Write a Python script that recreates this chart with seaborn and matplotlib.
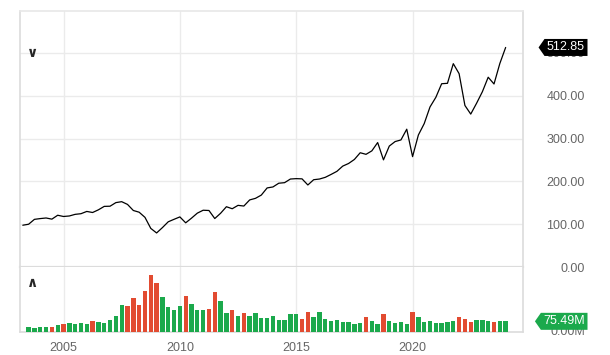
import numpy as np
import pandas as pd
import matplotlib
matplotlib.use("Agg")
import matplotlib.pyplot as plt
from matplotlib.path import Path
import seaborn as sns

# Quarterly closing price, 2003 Q2 .. 2024 Q1
price = [97.6, 99.9, 111.3,
         113.1, 114.5, 111.8, 120.9,
         118.0, 119.2, 123.0, 124.5,
         129.8, 127.3, 133.6, 141.6,
         142.0, 150.4, 152.6, 146.2,
         132.0, 128.0, 116.0, 90.2,
         79.5, 92.0, 105.6, 111.4,
         117.0, 103.2, 114.1, 125.8,
         132.6, 132.0, 113.2, 125.5,
         140.8, 136.1, 144.0, 142.4,
         156.7, 160.4, 168.0, 184.7,
         187.0, 195.7, 197.0, 205.5,
         206.4, 205.9, 191.6, 203.9,
         205.5, 209.5, 216.3, 223.5,
         235.7, 241.8, 251.2, 266.9,
         263.2, 271.3, 290.7, 250.3,
         282.5, 293.0, 296.8, 321.9,
         257.8, 308.4, 334.9, 373.9,
         396.3, 428.1, 429.1, 475.0,
         451.6, 377.3, 357.2, 382.4,
         409.4, 443.3, 427.5, 475.3,
         512.85]

# Average daily volume per quarter (millions), 2003 Q3 .. 2024 Q1
volume = [38, 31,
          38, 38, 38, 47,
          54, 61, 56, 61,
          56, 78, 71, 63,
          85, 115, 193, 184,
          240, 193, 287, 405,
          346, 247, 176, 155,
          184, 254, 195, 155,
          155, 162, 280, 216,
          132, 155, 113, 132,
          113, 132, 99, 99,
          115, 85, 85, 125,
          125, 92, 141, 106,
          141, 92, 78, 85,
          71, 71, 56, 61,
          108, 78, 54, 125,
          78, 61, 71, 54,
          141, 106, 71, 78,
          61, 66, 71, 75,
          108, 94, 71, 85,
          85, 80, 71, 80,
          75.49]

year_ticks = [2005, 2010, 2015, 2020]
price_ticks = [0, 100, 200, 300, 400, 500]
first_quarter = 2003.25

qx = first_quarter + 0.25 * np.arange(len(price))
df_price = pd.DataFrame({"year": qx, "close": price})
df_vol = pd.DataFrame({
    "year": qx[1:],
    "volume": volume,
    "dir": np.where(np.diff(price) > 0, "up", "down"),
})

sns.set_style("white")
plt.rcParams["font.family"] = ["Liberation Sans", "DejaVu Sans"]

GREEN = "#1ba94c"
RED = "#e24b31"
GRID = "#ebebeb"
BORDER = "#dcdcdc"
LABEL = "#666666"

W, H = 610, 355
fig = plt.figure(figsize=(W / 100, H / 100), dpi=100)
ax_p = fig.add_axes([20 / W, 1 - 267 / H, 503 / W, 256 / H])
ax_v = fig.add_axes([20 / W, 1 - 332 / H, 503 / W, 65 / H], sharex=ax_p)

# price line
sns.lineplot(data=df_price, x="year", y="close", ax=ax_p, color="black",
             linewidth=0.9, zorder=3)

# volume bars, coloured by quarter up / down
sns.barplot(data=df_vol, x="year", y="volume", hue="dir", ax=ax_v,
            palette={"up": GREEN, "down": RED}, native_scale=True,
            dodge=False, width=0.75, errorbar=None, legend=False,
            saturation=1, linewidth=0, zorder=3)

xmin = 2003.13
ax_p.set_xlim(xmin, xmin + 503 / 23.27)
ax_p.set_ylim(0, 598)
ax_v.set_ylim(0, 460)

for ax in (ax_p, ax_v):
    ax.set_xlabel("")
    ax.set_ylabel("")
    ax.set_xticks(year_ticks)
    ax.grid(axis="x", color=GRID, linewidth=1)
    ax.set_axisbelow(True)
    for s in ax.spines.values():
        s.set_color(BORDER)
        s.set_linewidth(1.2)
    ax.yaxis.tick_right()
    ax.tick_params(axis="both", length=0, labelsize=9, labelcolor=LABEL)

ax_p.spines["top"].set_color("#e8e8e8")
ax_v.spines["top"].set_visible(False)
ax_p.spines["bottom"].set_linewidth(1.6)
ax_p.tick_params(axis="x", labelbottom=False)

ax_p.set_yticks(price_ticks)
ax_p.set_yticklabels([f"{v:.2f}" for v in price_ticks])
ax_p.grid(axis="y", color=GRID, linewidth=1)
ax_p.tick_params(axis="y", pad=44.5)
for lbl in ax_p.get_yticklabels():
    lbl.set_horizontalalignment("right")

ax_v.set_yticks([0])
ax_v.set_yticklabels(["0.00M"])
ax_v.tick_params(axis="y", pad=44.5)
ax_v.tick_params(axis="x", pad=7)
for lbl in ax_v.get_yticklabels():
    lbl.set_horizontalalignment("right")
    lbl.set_verticalalignment("center")
ax_v.set_xticklabels([str(y) for y in year_ticks])


def tag_box(x0, y0, width, height, mutation_size):
    pad = 0.2 * mutation_size
    x0, y0 = x0 - pad, y0 - pad
    x1, y1 = x0 + width + 2 * pad, y0 + height + 2 * pad
    tip = (y1 - y0) * 0.35
    return Path([(x0, y0), (x1, y0), (x1, y1), (x0, y1),
                 (x0 - tip, (y0 + y1) / 2), (x0, y0)], closed=True)


tag_x = (585 - 20) / 503
ax_p.text(tag_x, price[-1], f"{price[-1]:.2f}", transform=ax_p.get_yaxis_transform(),
          ha="right", va="center", fontsize=9, color="white", zorder=5,
          bbox=dict(boxstyle=tag_box, fc="black", ec="none"), clip_on=False)
ax_v.text(tag_x, volume[-1], f"{volume[-1]:.2f}M", transform=ax_v.get_yaxis_transform(),
          ha="right", va="center", fontsize=9, color="white", zorder=5,
          bbox=dict(boxstyle=tag_box, fc=GREEN, ec="none"), clip_on=False)

# collapse / expand chevrons
fig.text(33 / W, 1 - 53 / H, "∨", ha="center", va="center", fontsize=10,
         fontweight="bold", family="DejaVu Sans")
fig.text(33 / W, 1 - 283 / H, "∧", ha="center", va="center", fontsize=10,
         fontweight="bold", family="DejaVu Sans")

fig.savefig("out.png", dpi=100)
